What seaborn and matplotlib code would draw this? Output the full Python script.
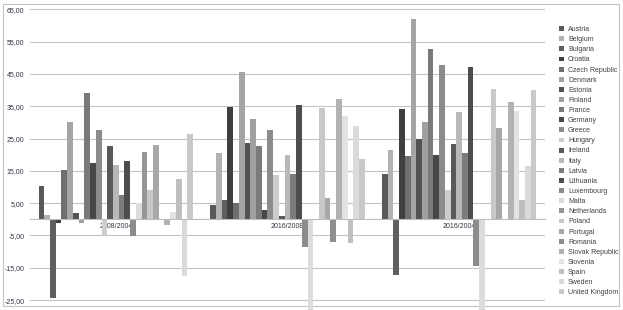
import numpy as np
import pandas as pd
import matplotlib
matplotlib.use("Agg")
import matplotlib.pyplot as plt
from matplotlib.patches import Rectangle, Patch
import seaborn as sns

periods = ["2008/2004", "2016/2008", "2016/2004"]
countries = ["Austria", "Belgium", "Bulgaria", "Croatia", "Czech Republic", "Denmark",
             "Estonia", "Finland", "France", "Germany", "Greece", "Hungary", "Ireland",
             "Italy", "Latvia", "Lithuania", "Luxembourg", "Malta", "Netherlands",
             "Poland", "Portugal", "Romania", "Slovak Republic", "Slovenia", "Spain",
             "Sweden", "United Kingdom"]
vals_2008_2004 = [10.2, 1.4, -24.5, -1.2, 15.4, 30.1, 1.9, -1.1, 39.0, 17.3, 27.8, -4.9, 22.6,
                  16.9, 7.6, 18.1, -5.1, 4.9, 20.8, 9.0, 22.9, 0.0, -1.8, 2.2, 12.4, -17.5, 26.3]
vals_2016_2008 = [4.3, 20.6, 5.9, 34.9, 5.1, 45.7, 23.5, 30.9, 22.7, 3.0, 27.5, 13.6, 1.1,
                  19.8, 14.1, 35.3, -8.7, -28.0, 0.0, 34.5, 6.6, -7.0, 37.2, 32.0, -7.3, 29.0, 18.6]
vals_2016_2004 = [14.1, 21.5, -17.3, 34.0, 19.7, 61.9, 24.9, 30.1, 52.7, 19.9, 47.7, 9.2, 23.4,
                  33.3, 20.6, 47.0, -14.5, -28.0, 0.0, 40.3, 28.2, 0.0, 36.2, 33.5, 6.0, 16.5, 40.0]
colors = ["#595959", "#b2b2b2", "#5f5f5f", "#3f3f3f", "#6f6f6f", "#a5a5a5", "#525252",
          "#a0a0a0", "#7a7a7a", "#474747", "#8c8c8c", "#cdcdcd", "#595959", "#b8b8b8",
          "#7c7c7c", "#4d4d4d", "#8c8c8c", "#dcdcdc", "#969696", "#c8c8c8", "#a8a8a8",
          "#8e8e8e", "#b2b2b2", "#e3e3e3", "#bfbfbf", "#dadada", "#c9c9c9"]
yticks = [-25, -15, -5, 5, 15, 25, 35, 45, 55, 65]
ytick_labels = ["-25,00", "-15,00", "-5,00", "5,00", "15,00", "25,00", "35,00", "45,00", "55,00", "65,00"]

rows = []
for p, vals in zip(periods, [vals_2008_2004, vals_2016_2008, vals_2016_2004]):
    for c, v in zip(countries, vals):
        rows.append({"period": p, "country": c, "value": v})
df = pd.DataFrame(rows)

sns.set_theme(style="white")
plt.rcParams["font.family"] = ["Liberation Sans", "DejaVu Sans"]

W, H = 623, 310
fig = plt.figure(figsize=(W / 100, H / 100), dpi=100)
fig.patch.set_facecolor("white")

top_px, bot_px = 3.7, 310.0
ax = fig.add_axes([30 / W, 1 - bot_px / H, 515 / W, (bot_px - top_px) / H])
ax.set_facecolor("none")

sns.barplot(data=df, x="period", y="value", hue="country", order=periods,
            hue_order=countries, palette=colors, width=0.9, errorbar=None,
            linewidth=0, ax=ax, legend=True)

zero_px = 219.3
scale = 3.23
ax.set_ylim((zero_px - bot_px) / scale, (zero_px - top_px) / scale)
ax.set_xlim(-0.5, 2.5)
ax.set_yticks(yticks)
ax.set_yticklabels(ytick_labels)
ax.yaxis.grid(True, color="#c3c3c3", linewidth=0.8)
ax.set_axisbelow(True)
for s in ["top", "right", "left"]:
    ax.spines[s].set_visible(False)
ax.spines["bottom"].set_position(("data", 0))
ax.spines["bottom"].set_color("#bdbdbd")
ax.spines["bottom"].set_linewidth(0.8)
ax.tick_params(axis="y", length=0, pad=4, labelsize=5, labelcolor="#2f3540")
ax.tick_params(axis="x", length=0, pad=3, labelsize=5, labelcolor="#2f3540")
ax.set_xlabel("")
ax.set_ylabel("")

handles, labels = ax.get_legend_handles_labels()
ax.get_legend().remove()
leg = fig.legend(handles, labels, loc="upper left",
                 bbox_to_anchor=(559 / W, 1 - 26 / H), frameon=False,
                 fontsize=5, labelspacing=0.45, handlelength=0.7, handleheight=0.7,
                 handletextpad=0.6, borderaxespad=0, borderpad=0)
for t in leg.get_texts():
    t.set_color("#404040")

fig.add_artist(Rectangle((3.3 / W, 1 - 306 / H), (619 - 3.3) / W, (306 - 3.7) / H,
                         transform=fig.transFigure, fill=False, edgecolor="#c3c3c3",
                         linewidth=0.8, zorder=-1))

fig.savefig("out.png", dpi=100)
